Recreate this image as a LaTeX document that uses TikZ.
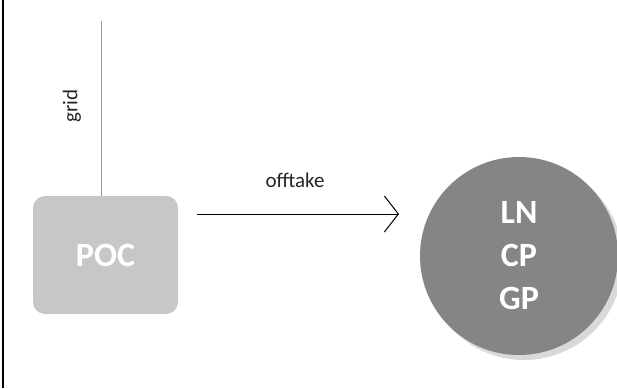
\documentclass[tikz,border=0pt]{standalone}
\usepackage{fontspec}
\setmainfont{Carlito}
\usetikzlibrary{arrows.meta, shadows}

\begin{document}
\begin{tikzpicture}[x=1pt, y=-1pt,
    box/.style={rounded corners=12pt, fill=black!22, minimum width=145pt, minimum height=118pt,
                text=white, font=\fontsize{34}{36}\selectfont\bfseries},
    ball/.style={circle, fill=black!48, minimum size=198pt, text=white, align=center,
                 font=\fontsize{34}{43}\selectfont\bfseries, inner sep=0pt,
                 drop shadow={shadow xshift=5pt, shadow yshift=-5pt, fill=black!15, opacity=1}},
    lbl/.style={font=\fontsize{21}{24}\selectfont, text=black!85}]
  \useasboundingbox (0,0) rectangle (617,388);
  \draw[line width=1.2pt] (3,0) -- (3,388);
  \node[box] (poc) at (105.5,255) {POC};
  \node[ball] (ln) at (519,256) {LN\\CP\\GP};
  \coordinate (gtop) at (101,21);
  \coordinate (ostart) at (197,214);
  \coordinate (oend) at (399,214);
  \draw[black!40, line width=0.5pt] (gtop) -- (gtop |- poc.north);
  \node[lbl, rotate=90] (gridlbl) at (72,106) {grid};
  \draw[line width=0.6pt, -{Straight Barb[length=14pt, width=36pt, line width=1pt]}] (ostart) -- (oend);
  \node[lbl] (offlbl) at (295,180) {offtake};
\end{tikzpicture}
\end{document}
